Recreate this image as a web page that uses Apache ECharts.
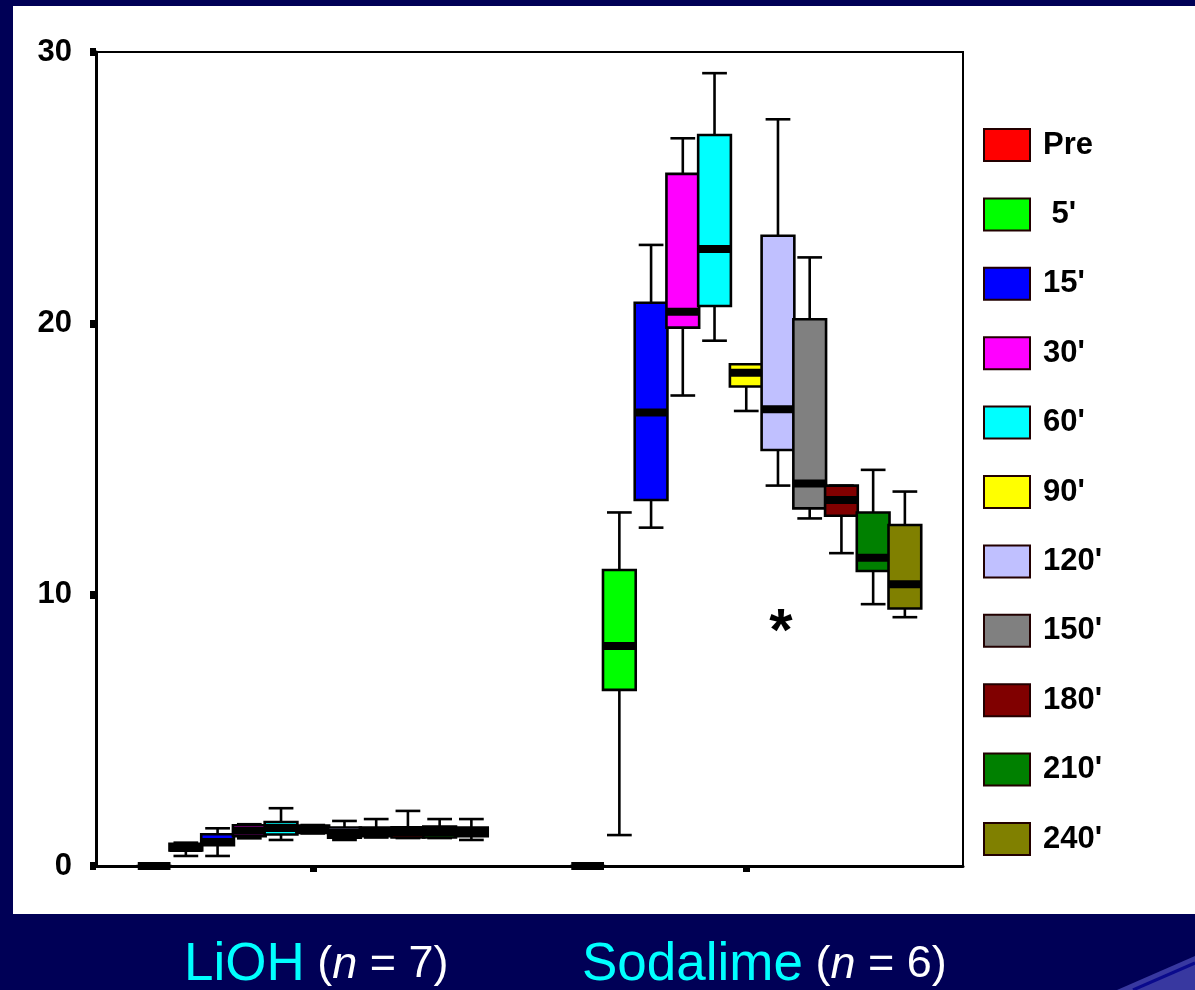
<!DOCTYPE html>
<html><head><meta charset="utf-8">
<script src="https://cdn.jsdelivr.net/npm/echarts@6/dist/echarts.min.js"></script>
<style>html,body{margin:0;padding:0;background:#000056;}#c{width:1195px;height:990px;}</style>
</head><body><div id="c"></div>
<script>
// ---------- data ----------
const groups = ['LiOH', 'Sodalime'];
const groupN = [7, 6];
const timeLabels = ['Pre', " 5'", "15'", "30'", "60'", "90'", "120'", "150'", "180'", "210'", "240'"];
const colors = ['#ff0000', '#00ff00', '#0000ff', '#ff00ff', '#00ffff', '#ffff00', '#c0c0ff', '#808080', '#800000', '#008000', '#808000'];
const yTicks = [0, 10, 20, 30];
// [min, q1, median, q3, max]
const lioh = [
  [0, 0, 0, 0, 0],
  [0.37, 0.57, 0.66, 0.82, 0.86],
  [0.37, 0.77, 0.88, 1.17, 1.39],
  [1.02, 1.10, 1.30, 1.50, 1.54],
  [0.96, 1.16, 1.40, 1.62, 2.13],
  [1.20, 1.22, 1.35, 1.49, 1.51],
  [0.96, 1.04, 1.22, 1.42, 1.66],
  [1.05, 1.10, 1.25, 1.42, 1.73],
  [1.03, 1.05, 1.25, 1.43, 2.03],
  [1.03, 1.05, 1.25, 1.45, 1.73],
  [0.96, 1.10, 1.25, 1.42, 1.73]
];
const sodalime = [
  [0, 0, 0, 0, 0],
  [1.14, 6.49, 8.11, 10.91, 13.03],
  [12.47, 13.49, 16.71, 20.76, 22.89],
  [17.34, 19.84, 20.43, 25.51, 26.82],
  [19.36, 20.64, 22.74, 26.94, 29.22],
  [16.77, 17.67, 18.18, 18.49, 18.49],
  [14.02, 15.33, 16.83, 23.23, 27.52],
  [12.81, 13.18, 14.10, 20.15, 22.43],
  [11.53, 12.91, 13.49, 14.02, 14.02],
  [9.65, 10.87, 11.36, 13.03, 14.60],
  [9.17, 9.49, 10.38, 12.57, 13.80]
];
const asteriskMark = [1, 6, 9.0]; // group index, time index, value

// ---------- rendering ----------
const FONT = '"Liberation Sans", Arial, sans-serif';
const nT = timeLabels.length;

function slotInfo(api, cat, k) {
  const band = api.size([1, 0])[0];
  const slot = band * 0.805 / nT;
  const base = api.coord([cat, 0]);
  return { slot: slot, cx: base[0] + (k - (nT - 1) / 2) * slot };
}

function makeBoxRender(k) {
  return function (params, api) {
    const cat = api.value(0);
    const s = slotInfo(api, cat, k);
    const cx = s.cx, half = s.slot / 2 + 0.5, capHalf = s.slot * 0.39;
    const y = i => api.coord([cat, api.value(i)])[1];
    const yMin = y(1), yQ1 = y(2), yMed = y(3), yQ3 = y(4), yMax = y(5);
    const ls = { stroke: '#000', lineWidth: 2.6 };
    return {
      type: 'group',
      children: [
        { type: 'line', shape: { x1: cx, y1: yMax, x2: cx, y2: yQ3 }, style: ls },
        { type: 'line', shape: { x1: cx, y1: yQ1, x2: cx, y2: yMin }, style: ls },
        { type: 'line', shape: { x1: cx - capHalf, y1: yMax, x2: cx + capHalf, y2: yMax }, style: ls },
        { type: 'line', shape: { x1: cx - capHalf, y1: yMin, x2: cx + capHalf, y2: yMin }, style: ls },
        { type: 'rect', shape: { x: cx - half, y: yQ3, width: half * 2, height: Math.max(yQ1 - yQ3, 0.01) },
          style: { fill: colors[k], stroke: '#000', lineWidth: 2.6 } },
        { type: 'rect', shape: { x: cx - half, y: yMed - 4, width: half * 2, height: 8 }, style: { fill: '#000' } }
      ]
    };
  };
}

const series = timeLabels.map((name, k) => ({
  type: 'custom',
  name: name,
  coordinateSystem: 'cartesian2d',
  itemStyle: { color: colors[k], borderColor: '#000', borderWidth: 2 },
  encode: { x: 0, y: [1, 2, 3, 4, 5] },
  data: [[0].concat(lioh[k]), [1].concat(sodalime[k])],
  renderItem: makeBoxRender(k),
  clip: false,
  silent: true
}));

series.push({
  type: 'custom',
  name: 'asterisk',
  coordinateSystem: 'cartesian2d',
  encode: { x: 0, y: 1 },
  data: [[asteriskMark[0], asteriskMark[2]]],
  renderItem: function (params, api) {
    const cat = api.value(0);
    const s = slotInfo(api, cat, asteriskMark[1]);
    const p = api.coord([cat, api.value(1)]);
    return { type: 'text', x: s.cx + 3, y: p[1] + 12,
      style: { text: '*', font: 'bold 60px ' + FONT, fill: '#000', align: 'center', verticalAlign: 'middle' } };
  },
  silent: true
});

const richStyles = {
  a: { fontSize: 53, fontFamily: FONT, fill: '#00ffff', textShadowColor: '#000', textShadowOffsetX: 2, textShadowOffsetY: 2 },
  b: { fontSize: 45, fontFamily: FONT, fill: '#ffffff', textShadowColor: '#000', textShadowOffsetX: 2, textShadowOffsetY: 2 },
  i: { fontSize: 45, fontFamily: FONT, fontStyle: 'italic', fill: '#ffffff', textShadowColor: '#000', textShadowOffsetX: 2, textShadowOffsetY: 2 }
};
function groupText(g) {
  return '{a|' + groups[g] + '}{b| (}{i|n}{b| = ' + groupN[g] + ')}';
}

const chart = echarts.init(document.getElementById('c'));
chart.setOption({
  backgroundColor: '#000056',
  animation: false,
  grid: { left: 96, right: 232, top: 52, bottom: 124, show: true, borderColor: '#000', borderWidth: 2, backgroundColor: 'transparent' },
  xAxis: {
    type: 'category', data: groups,
    axisLine: { lineStyle: { color: '#000', width: 3 } },
    axisTick: { show: true, alignWithLabel: true, length: 6, lineStyle: { color: '#000', width: 7 } },
    axisLabel: { show: false },
    splitLine: { show: false }
  },
  yAxis: {
    type: 'value', min: yTicks[0], max: yTicks[yTicks.length - 1], interval: 10,
    axisLine: { show: true, lineStyle: { color: '#000', width: 3 } },
    axisTick: { show: true, length: 6, lineStyle: { color: '#000', width: 8 } },
    axisLabel: { color: '#000', fontWeight: 'bold', fontSize: 31, fontFamily: FONT, margin: 24, padding: [4, 0, 0, 0] },
    splitLine: { show: false }
  },
  legend: {
    orient: 'vertical', left: 983, top: 128, padding: 0,
    itemWidth: 46, itemHeight: 32, itemGap: 35.4,
    selectedMode: false,
    textStyle: { color: '#000', fontWeight: 'bold', fontSize: 31, fontFamily: FONT, lineHeight: 32, padding: [0, 0, 0, 8] },
    data: timeLabels.map((n, i) => ({ name: n, icon: 'rect', itemStyle: { color: colors[i], borderColor: '#200', borderWidth: 2 } }))
  },
  graphic: [
    { type: 'rect', z: -100, shape: { x: 13, y: 6, width: 1182, height: 908 }, style: { fill: '#ffffff' } },
    { type: 'polygon', z: -100, shape: { points: [[1117, 990], [1195, 956], [1195, 990]] }, style: { fill: '#3838a0' } },
    { type: 'line', z: -99, shape: { x1: 1133, y1: 990, x2: 1195, y2: 963 }, style: { stroke: '#0a0a8c', lineWidth: 3 } },
    { type: 'text', x: 184, y: 965, style: { text: groupText(0), verticalAlign: 'middle', align: 'left', rich: richStyles } },
    { type: 'text', x: 582, y: 965, style: { text: groupText(1), verticalAlign: 'middle', align: 'left', rich: richStyles } }
  ],
  series: series
});
</script></body></html>
